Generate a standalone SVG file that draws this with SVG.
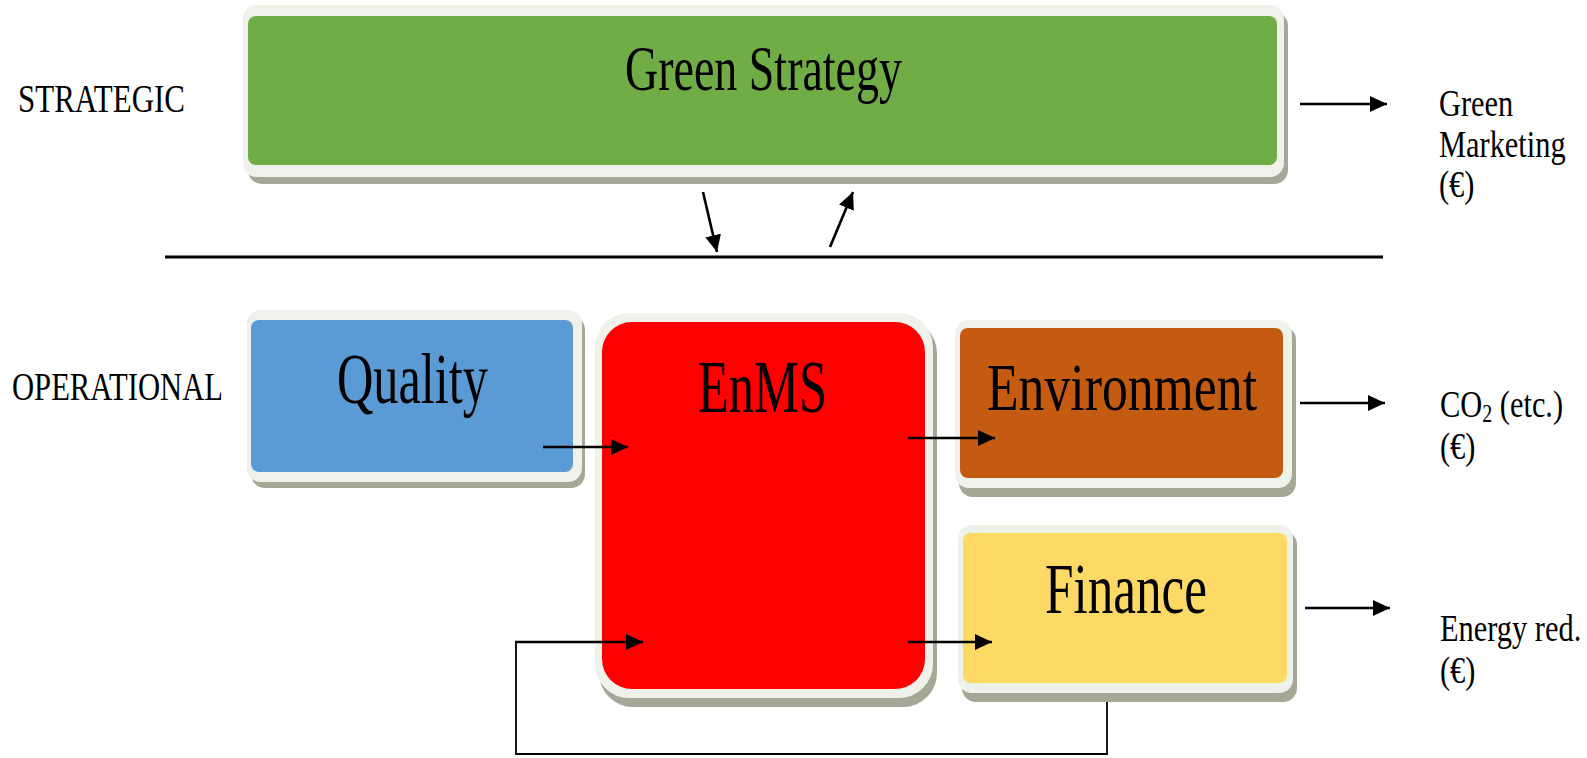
<svg xmlns="http://www.w3.org/2000/svg" width="1587" height="758" viewBox="0 0 1587 758">
  <defs>
    <marker id="arrow" markerUnits="userSpaceOnUse" markerWidth="18" markerHeight="16" refX="17" refY="8" orient="auto">
      <path d="M0,0 L17,8 L0,16 z" fill="#000"/>
    </marker>
    <style>
      .shadow { fill: #a3a996; }
      .frame { fill: #eff1eb; }
      .lbl { font-family: "Liberation Serif", "Times New Roman", serif; fill: #000; }
      .conn { stroke: #000; stroke-width: 2.6; fill: none; }
      .thin { stroke: #000; stroke-width: 1.8; fill: none; }
    </style>
  </defs>

  <rect width="1587" height="758" fill="#ffffff"/>

  <!-- level labels -->
  <text class="lbl" x="18" y="112" font-size="40" textLength="167" lengthAdjust="spacingAndGlyphs">STRATEGIC</text>
  <text class="lbl" x="12" y="400" font-size="40" textLength="211" lengthAdjust="spacingAndGlyphs">OPERATIONAL</text>

  <!-- strategic layer -->
  <g id="green-strategy">
    <rect class="shadow" x="248" y="12" width="1040" height="172" rx="14"/>
    <rect class="frame" x="243" y="5" width="1041" height="172" rx="14"/>
    <rect x="248" y="16" width="1029" height="149" rx="8" fill="#70ad47"/>
    <text class="lbl" x="625" y="90" font-size="63" textLength="277" lengthAdjust="spacingAndGlyphs">Green Strategy</text>
  </g>

  <!-- operational layer -->
  <g id="quality">
    <rect class="shadow" x="251" y="316" width="334" height="172" rx="14"/>
    <rect class="frame" x="247" y="310" width="335" height="172" rx="14"/>
    <rect x="251" y="320" width="322" height="152" rx="8" fill="#5b9bd5"/>
    <text class="lbl" x="337" y="403" font-size="72" textLength="151" lengthAdjust="spacingAndGlyphs">Quality</text>
  </g>

  <g id="enms">
    <rect class="shadow" x="599" y="319" width="338" height="388" rx="34"/>
    <rect class="frame" x="595" y="313" width="338" height="385" rx="34"/>
    <rect x="602" y="322" width="323" height="367" rx="30" fill="#ff0000"/>
    <text class="lbl" x="698" y="412" font-size="74" textLength="129" lengthAdjust="spacingAndGlyphs">EnMS</text>
  </g>

  <g id="environment">
    <rect class="shadow" x="959" y="326" width="337" height="171" rx="14"/>
    <rect class="frame" x="955" y="320" width="337" height="168" rx="14"/>
    <rect x="960" y="328" width="323" height="150" rx="8" fill="#c55a11"/>
    <text class="lbl" x="987" y="410" font-size="68" textLength="270" lengthAdjust="spacingAndGlyphs">Environment</text>
  </g>

  <g id="finance">
    <rect class="shadow" x="962" y="531" width="335" height="171" rx="14"/>
    <rect class="frame" x="958" y="525" width="335" height="168" rx="14"/>
    <rect x="963" y="533" width="324" height="150" rx="8" fill="#ffd966"/>
    <text class="lbl" x="1045" y="613" font-size="72" textLength="162" lengthAdjust="spacingAndGlyphs">Finance</text>
  </g>

  <!-- outcome labels (narrowed serif) -->
  <g id="green-marketing" class="lbl" font-size="38">
    <text transform="translate(1439,116) scale(0.8,1)">Green</text>
    <text transform="translate(1439,157) scale(0.8,1)">Marketing</text>
    <text transform="translate(1439,197) scale(0.8,1)">(€)</text>
  </g>

  <g id="co2" class="lbl" font-size="38">
    <text transform="translate(1440,417) scale(0.8,1)">CO<tspan font-size="25" dy="5">2</tspan><tspan dy="-5"> (etc.)</tspan></text>
    <text transform="translate(1440,459) scale(0.8,1)">(€)</text>
  </g>

  <g id="energy-reduction" class="lbl" font-size="38">
    <text transform="translate(1440,641) scale(0.8,1)">Energy red.</text>
    <text transform="translate(1440,683) scale(0.8,1)">(€)</text>
  </g>

  <!-- connectors -->
  <g id="connectors">
    <line x1="165" y1="257" x2="1383" y2="257" stroke="#000" stroke-width="3"/>
    <line class="conn" x1="1300" y1="104" x2="1387" y2="104" marker-end="url(#arrow)"/>
    <line class="conn" x1="703" y1="192" x2="717" y2="252" marker-end="url(#arrow)"/>
    <line class="conn" x1="830" y1="247" x2="853" y2="192" marker-end="url(#arrow)"/>
    <line class="conn" x1="543" y1="447" x2="628" y2="447" marker-end="url(#arrow)"/>
    <line class="conn" x1="908" y1="438" x2="995" y2="438" marker-end="url(#arrow)"/>
    <line class="conn" x1="1300" y1="403" x2="1385" y2="403" marker-end="url(#arrow)"/>
    <line class="conn" x1="908" y1="642" x2="992" y2="642" marker-end="url(#arrow)"/>
    <line class="conn" x1="1305" y1="608" x2="1390" y2="608" marker-end="url(#arrow)"/>
    <polyline class="thin" points="1107,702 1107,754 516,754 516,642"/>
    <line class="conn" x1="515" y1="642" x2="643" y2="642" marker-end="url(#arrow)"/>
  </g>
</svg>
